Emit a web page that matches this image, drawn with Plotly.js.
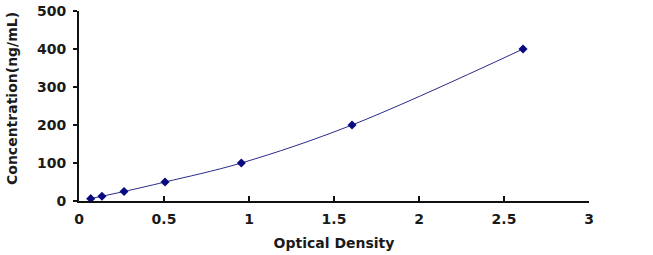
<!DOCTYPE html>
<html><head><meta charset="utf-8">
<script src="https://cdn.plot.ly/plotly-3.0.1.min.js"></script>
<style>html,body{margin:0;padding:0;background:#fff;}#c{width:653px;height:255px;}</style>
</head><body><div id="c"></div>
<script>
const od = [0.069, 0.135, 0.265, 0.506, 0.955, 1.606, 2.612];
const conc = [6.25, 12.5, 25, 50, 100, 200, 400];
const xTicks = [0, 0.5, 1, 1.5, 2, 2.5, 3];
const xTickText = ['<b>0</b>', '<b>0.5</b>', '<b>1</b>', '<b>1.5</b>', '<b>2</b>', '<b>2.5</b>', '<b>3</b>'];
const yTicks = [0, 100, 200, 300, 400, 500];
const yTickText = ['<b>0</b>', '<b>100</b>', '<b>200</b>', '<b>300</b>', '<b>400</b>', '<b>500</b>'];
const yTitle = 'Concentration(ng/mL)';
const xTitle = 'Optical Density';

const fam = 'DejaVu Sans, sans-serif';
Plotly.newPlot('c', [{
  x: od, y: conc, type: 'scatter', mode: 'lines+markers',
  line: {shape: 'spline', color: '#2a2a8a', width: 1},
  marker: {symbol: 'diamond', size: 7, color: '#0a0a80'},
  cliponaxis: false
}], {
  width: 653, height: 255,
  margin: {l: 79, r: 64, t: 11, b: 54},
  paper_bgcolor: '#fff', plot_bgcolor: '#fff',
  showlegend: false,
  font: {family: fam, size: 14, color: '#1a1a1a'},
  xaxis: {
    range: [0, 3], tickvals: xTicks, ticktext: xTickText,
    ticks: 'inside', ticklen: 5, tickwidth: 2, tickcolor: '#111',
    ticklabelstandoff: 4,
    showline: true, linecolor: '#111', linewidth: 2,
    showgrid: false, zeroline: false,
    tickfont: {family: fam, size: 14, color: '#1a1a1a'},
    title: {text: '<b>' + xTitle + '</b>', font: {family: fam, size: 14, color: '#1a1a1a'}, standoff: 12}
  },
  yaxis: {
    range: [0, 500], tickvals: yTicks, ticktext: yTickText,
    ticks: 'outside', ticklen: 4, tickwidth: 2, tickcolor: '#111',
    ticklabelstandoff: 4,
    showline: true, linecolor: '#111', linewidth: 2,
    showgrid: false, zeroline: false,
    tickfont: {family: fam, size: 14, color: '#1a1a1a'}
  },
  annotations: [{
    text: '<b>' + yTitle + '</b>', textangle: -90, showarrow: false,
    xref: 'paper', yref: 'paper', x: -0.1314, y: 0.542,
    xanchor: 'center', yanchor: 'middle',
    font: {family: fam, size: 14, color: '#1a1a1a'}
  }]
}, {staticPlot: true});
</script></body></html>
